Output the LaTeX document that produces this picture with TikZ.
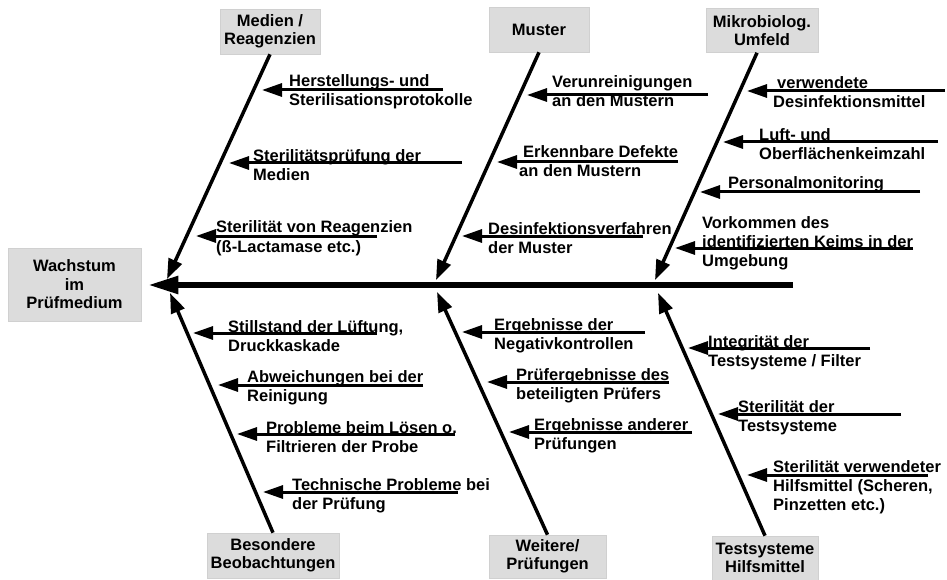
\documentclass[tikz,border=0pt]{standalone}
\usepackage{fontspec}
\setmainfont{Liberation Sans}
\usetikzlibrary{arrows.meta}
\definecolor{boxgray}{RGB}{220,220,220}
\definecolor{boxedge}{RGB}{208,208,208}
\newcommand\labtwo[2]{\vtop{\hbox{#1}\hbox{#2}}}
\newcommand\labthree[3]{\vtop{\hbox{#1}\hbox{#2}\hbox{#3}}}
\newcommand\causearrow[7]{%
  \coordinate (#1-tail) at (#2,#4);
  \coordinate (#1-tip) at (#3,#4);
  \node[cause] (#1) at (#5,#6) {#7};
  \draw[sub] (#1-tail) -- (#1-tip);}
\tikzset{
  cat/.style={fill=boxgray, draw=boxedge, line width=0.6pt, align=center,
    font=\bfseries\fontsize{16.5}{18.5}\selectfont, inner sep=0pt},
  cause/.style={anchor=base west, inner sep=0pt,
    font=\bfseries\fontsize{16.5}{19}\selectfont},
  spine/.style={line width=5.5pt, -{Triangle[length=30pt,width=17pt]}},
  bone/.style={line width=3.5pt, -{Triangle[length=20pt,width=14pt]}},
  sub/.style={line width=3pt, -{Triangle[length=20pt,width=13pt]}}
}
\begin{document}
\begin{tikzpicture}[x=1pt,y=-1pt]
\useasboundingbox (0,0) rectangle (947,580);
% boxes
\node[cat, minimum width=133pt, minimum height=73pt] (effect) at (74.5,284.5) {Wachstum\\im\\Prüfmedium};
\node[cat, minimum width=100pt, minimum height=45pt] (medien) at (270,31.5) {Medien /\\Reagenzien};
\node[cat, minimum width=100pt, minimum height=45pt] (muster) at (539,29.5) {Muster};
\node[cat, minimum width=112pt, minimum height=44pt] (mikro) at (762,30.5) {Mikrobiolog.\\Umfeld};
\node[cat, minimum width=132pt, minimum height=45pt] (besond) at (273,555.5) {Besondere\\Beobachtungen};
\node[cat, minimum width=117pt, minimum height=43pt] (weitere) at (547.5,556.5) {Weitere/\\Prüfungen};
\node[cat, minimum width=106pt, minimum height=44pt] (tests) at (765,558) {Testsysteme\\Hilfsmittel};
% spine
\coordinate (spineR) at (793,285);
\draw[spine, shorten >=7pt] (spineR) -- (effect.east |- spineR);
% bones
\coordinate (tM) at (167,279);
\coordinate (tMu) at (436,280);
\coordinate (tMi) at (655,280);
\coordinate (tB) at (170,293);
\coordinate (tW) at (437,292);
\coordinate (tT) at (658,293);
\draw[bone] (medien.south) -- (tM);
\draw[bone] (muster.south) -- (tMu);
\draw[bone] ([xshift=-5pt]mikro.south) -- (tMi);
\draw[bone] (besond.north) -- (tB);
\draw[bone] (weitere.north) -- (tW);
\draw[bone] (tests.north) -- (tT);
% causes: Medien
\causearrow{m1}{443}{262}{90}{289}{87}{\labtwo{Herstellungs- und}{Sterilisationsprotokolle}}
\causearrow{m2}{462}{229}{163}{253}{162}{\labtwo{Sterilitätsprüfung der}{Medien}}
\causearrow{m3}{377}{196}{236}{216}{233}{\labtwo{Sterilität von Reagenzien}{(ß-Lactamase etc.)}}
% Muster
\causearrow{u1}{708}{527}{95}{552}{88}{\labtwo{Verunreinigungen}{an den Mustern}}
\causearrow{u2}{678}{497}{162}{519}{158}{\labtwo{\kern4pt Erkennbare Defekte}{an den Mustern}}
\causearrow{u3}{643}{462}{236}{488}{234}{\labtwo{Desinfektionsverfahren}{der Muster}}
% Mikrobiolog. Umfeld
\causearrow{k1}{945}{747}{91}{773}{89}{\labtwo{\kern4pt verwendete}{Desinfektionsmittel}}
\causearrow{k2}{938}{723}{142}{759}{141}{\labtwo{Luft- und}{Oberflächenkeimzahl}}
\causearrow{k3}{920}{700}{192}{728}{189}{Personalmonitoring}
\causearrow{k4}{913}{675}{248}{702}{228}{\labthree{Vorkommen des}{identifizierten Keims in der}{Umgebung}}
% Besondere Beobachtungen
\causearrow{b1}{377}{193}{333}{228}{332}{\labtwo{Stillstand der Lüftung,}{Druckkaskade}}
\causearrow{b2}{423}{218}{385}{247}{382}{\labtwo{Abweichungen bei der}{Reinigung}}
\causearrow{b3}{455}{237}{434}{266}{433}{\labtwo{Probleme beim Lösen o.}{Filtrieren der Probe}}
\causearrow{b4}{458}{263}{492}{292}{490}{\labtwo{Technische Probleme bei}{der Prüfung}}
% Weitere Prüfungen
\causearrow{w1}{645}{462}{332}{494}{330}{\labtwo{Ergebnisse der}{Negativkontrollen}}
\causearrow{w2}{669}{487}{382}{516}{380}{\labtwo{Prüfergebnisse des}{beteiligten Prüfers}}
\causearrow{w3}{692}{509}{432}{534}{430}{\labtwo{Ergebnisse anderer}{Prüfungen}}
% Testsysteme Hilfsmittel
\causearrow{t1}{870}{688}{348}{708}{347}{\labtwo{Integrität der}{Testsysteme / Filter}}
\causearrow{t2}{901}{718}{414}{738}{412}{\labtwo{Sterilität der}{Testsysteme}}
\causearrow{t3}{928}{747}{475}{773}{472}{\labthree{Sterilität verwendeter}{Hilfsmittel (Scheren,}{Pinzetten etc.)}}
\end{tikzpicture}
\end{document}
